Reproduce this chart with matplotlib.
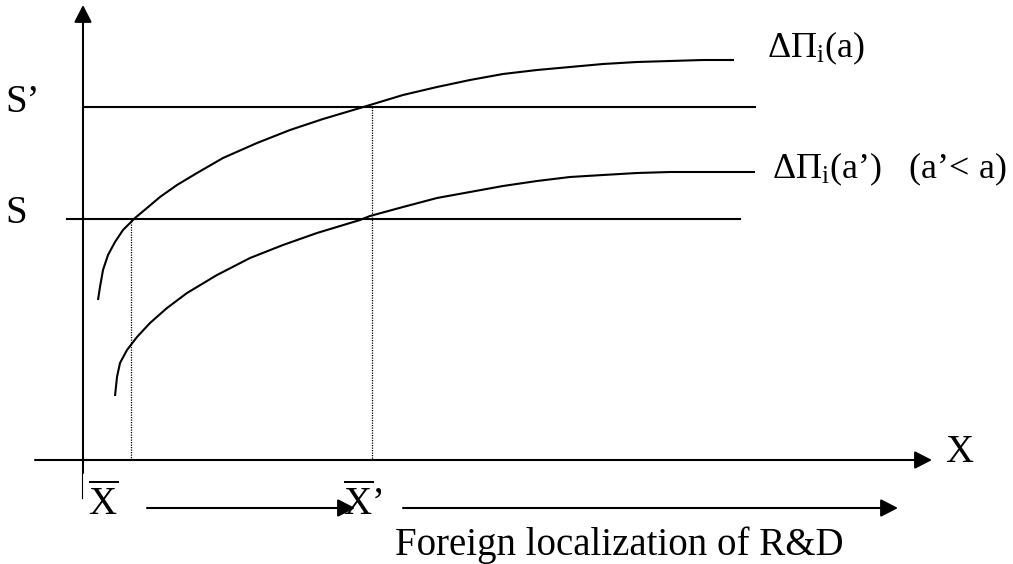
import matplotlib.pyplot as plt

plt.rcParams["font.family"] = ["Liberation Serif", "DejaVu Serif"]
plt.rcParams["mathtext.fontset"] = "custom"
plt.rcParams["mathtext.rm"] = "Liberation Serif"
plt.rcParams["mathtext.it"] = "Liberation Serif:italic"

# Diagram, in pixel units (y grows downward)
upper_x = [98, 100, 103, 108, 115, 123, 135, 147, 160, 177, 197, 223, 257, 290,
           323, 360, 370, 403, 437, 470, 503, 537, 570, 603, 637, 670, 703, 734]
upper_y = [300, 287, 270, 255, 242, 230, 218, 208, 197, 185, 173, 158, 143, 130,
           119, 108, 105, 95, 87, 80, 74, 70, 67, 64, 62, 61, 60, 60]
lower_x = [115, 117, 120, 127, 137, 150, 167, 187, 217, 250, 283, 317, 360,
           370, 403, 437, 470, 503, 537, 570, 603, 637, 670, 703, 755]
lower_y = [396, 377, 363, 350, 337, 323, 308, 293, 275, 258, 245, 233, 220,
           216, 207, 198, 192, 186, 181, 177, 175, 173, 172, 172, 172]

level_s_hi = 107    # S'
level_s_lo = 219    # S
x_bar = 131         # X-bar threshold
x_bar_hi = 372      # X-bar' threshold

axis_y = 460
axis_x = 83

fig = plt.figure(figsize=(10.13, 5.64), dpi=100)
ax = fig.add_axes([0, 0, 1, 1])
ax.set_xlim(0, 1013)
ax.set_ylim(564, 0)
ax.axis("off")

lw = 1.5
fs = 28
fs_lab = 26


def arrow(x0, y0, x1, y1):
    ax.annotate(
        "", xy=(x1, y1), xytext=(x0, y0),
        arrowprops=dict(arrowstyle="-|>,head_length=10.5,head_width=5.4",
                        mutation_scale=1, color="black", lw=lw,
                        shrinkA=0, shrinkB=0),
    )


# axes
arrow(axis_x, 473, axis_x, 5)
ax.plot([82, 82], [473, 498], color="black", lw=0.8)
arrow(35, axis_y, 932, axis_y)

# thresholds
ax.plot([axis_x, 755], [level_s_hi, level_s_hi], color="black", lw=lw)
ax.plot([67, 740], [level_s_lo, level_s_lo], color="black", lw=lw)

# profit curves
ax.plot(upper_x, upper_y, color="black", lw=lw, solid_capstyle="butt",
        solid_joinstyle="round")
ax.plot(lower_x, lower_y, color="black", lw=lw, solid_capstyle="butt",
        solid_joinstyle="round")

# dotted drop lines
ax.plot([x_bar, x_bar], [level_s_lo, axis_y], color="black", lw=0.9,
        linestyle=(0, (1, 1)))
ax.plot([x_bar_hi, x_bar_hi], [level_s_hi, axis_y], color="black", lw=0.9,
        linestyle=(0, (1, 1)))

# bottom arrows
arrow(147, 508, 355, 508)
arrow(403, 508, 898, 508)

# labels
ax.text(5, 112, "S’", fontsize=fs, ha="left", va="baseline")
ax.text(5, 223, "S", fontsize=fs, ha="left", va="baseline")
ax.text(767, 57, "ΔΠ$_{\\mathrm{i}}$(a)", fontsize=fs_lab, ha="left",
        va="baseline")
ax.text(772, 178, "ΔΠ$_{\\mathrm{i}}$(a’)   (a’< a)", fontsize=fs_lab,
        ha="left", va="baseline")
ax.text(945, 462, "X", fontsize=fs, ha="left", va="baseline")
ax.text(88, 515, "$\\overline{\\mathrm{X}}$", fontsize=fs, ha="left",
        va="baseline")
ax.text(343, 515, "$\\overline{\\mathrm{X}}$’", fontsize=fs, ha="left",
        va="baseline")
ax.text(395, 555, "Foreign localization of R&D", fontsize=fs, ha="left",
        va="baseline")

fig.savefig("out.png", dpi=100)
